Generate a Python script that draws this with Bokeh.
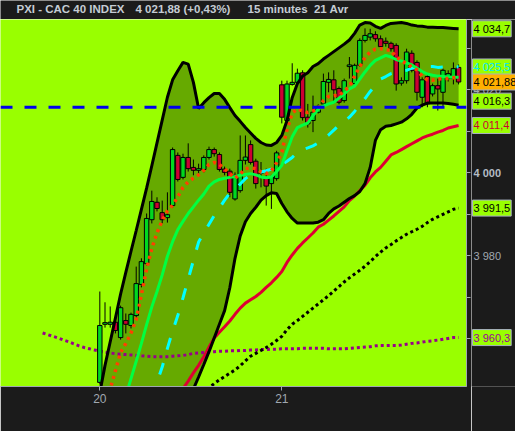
import numpy as np
from bokeh.plotting import figure
from bokeh.layouts import column, row
from bokeh.models import Range1d, FixedTicker, Label, Span, ColumnDataSource
from bokeh.embed import file_html
from bokeh.resources import INLINE

# ---- CAC 40 index, 15-minute bars, sessions of 20 and 21 April (35 bars each) ----
session_labels = ["20", "21"]
bars_per_session = 35

bar_open = [
    3949.5, 3963.5, 3963.5, 3964.0, 3960.3, 3964.4, 3963.2, 3965.6, 3973.1, 3978.1,
    3988.7, 3992.9, 3990.4, 3989.2, 3992.1, 4004.2, 3998.9, 4003.7, 4001.3, 4000.6,
    4000.8, 4003.7, 4005.6, 4004.4, 4000.9, 4000.4, 3993.7, 3995.7, 4003.0, 4006.8,
    4002.8, 3999.9, 3998.6, 3997.4, 3998.6, 4021.2, 4012.6, 4021.3, 4021.8, 4024.1,
    4013.4, 4012.6, 4014.6, 4016.6, 4021.8, 4022.4, 4020.3, 4017.4, 4025.6, 4021.5,
    4025.9, 4031.9, 4032.7, 4033.3, 4032.3, 4031.7, 4031.2, 4030.7, 4021.6, 4022.2,
    4028.8, 4026.6, 4018.2, 4023.2, 4019.0, 4021.0, 4019.4, 4022.7, 4022.7, 4025.4,
]
bar_high = [
    3971.4, 3968.8, 3967.8, 3964.9, 3968.0, 3966.1, 3966.3, 3977.4, 3979.4, 3990.2,
    3995.7, 3994.1, 3993.3, 3995.3, 4006.1, 4004.9, 4004.6, 4007.1, 4003.2, 4002.2,
    4004.2, 4006.3, 4006.1, 4004.9, 4001.5, 4001.0, 4000.1, 4009.0, 4009.0, 4007.8,
    4003.4, 4002.6, 4001.0, 3999.5, 4005.3, 4022.2, 4022.2, 4026.4, 4025.1, 4024.7,
    4016.6, 4018.6, 4016.5, 4023.9, 4024.2, 4024.7, 4020.8, 4022.7, 4027.9, 4026.3,
    4032.4, 4034.8, 4034.7, 4034.1, 4033.1, 4032.6, 4031.6, 4031.2, 4023.0, 4029.9,
    4029.5, 4027.1, 4023.0, 4023.9, 4021.5, 4022.7, 4025.1, 4024.7, 4026.6, 4026.1,
]
bar_low = [
    3949.0, 3962.7, 3962.7, 3961.3, 3959.8, 3961.3, 3962.5, 3965.1, 3972.4, 3977.7,
    3987.8, 3990.7, 3987.8, 3988.0, 3991.6, 3997.9, 3998.4, 4000.3, 3999.4, 3999.8,
    4000.1, 4003.2, 4003.9, 4000.3, 3999.4, 3994.1, 3993.3, 3995.2, 4002.0, 4002.0,
    3996.2, 3996.5, 3992.1, 3991.3, 3998.1, 4011.9, 4012.0, 4021.0, 4021.5, 4012.6,
    4010.9, 4009.8, 4014.3, 4016.2, 4019.4, 4016.7, 4016.5, 4016.9, 4022.7, 4021.2,
    4025.6, 4031.4, 4031.9, 4031.6, 4029.7, 4030.4, 4029.2, 4019.8, 4021.0, 4021.5,
    4024.2, 4017.4, 4015.8, 4015.8, 4018.4, 4015.0, 4015.8, 4022.0, 4021.3, 4021.3,
]
bar_close = [
    3963.2, 3963.9, 3964.0, 3962.0, 3967.5, 3963.5, 3965.9, 3973.3, 3978.6, 3989.0,
    3993.1, 3991.4, 3988.7, 3989.9, 4005.6, 3998.4, 4003.7, 4001.0, 4000.6, 4001.0,
    4003.7, 4005.6, 4004.6, 4000.8, 4000.1, 3995.3, 3999.4, 4003.0, 4003.8, 4002.5,
    3997.4, 4000.1, 3996.8, 3999.0, 4004.8, 4013.4, 4021.4, 4021.8, 4024.0, 4013.3,
    4011.8, 4014.6, 4016.0, 4022.0, 4022.5, 4020.0, 4017.0, 4022.2, 4026.0, 4025.9,
    4031.9, 4033.1, 4033.5, 4032.3, 4030.4, 4031.2, 4029.9, 4021.4, 4022.2, 4029.1,
    4024.7, 4019.4, 4022.4, 4016.6, 4021.0, 4020.2, 4024.7, 4023.9, 4025.1, 4021.88,
]

# Bollinger envelope
upper_band = [
    3947.0, 3953.6, 3959.3, 3965.0, 3970.8, 3976.0, 3981.1, 3986.1, 3991.2, 3996.3,
    4001.7, 4007.2, 4012.7, 4018.2, 4022.4, 4024.6, 4026.6, 4026.2, 4021.8, 4015.5,
    4016.9, 4018.1, 4019.1, 4019.1, 4017.7, 4015.7, 4013.8, 4012.4, 4010.9, 4009.6,
    4008.3, 4007.3, 4006.7, 4006.6, 4007.3, 4009.0, 4012.6, 4018.1, 4021.5, 4023.3,
    4024.1, 4025.6, 4026.3, 4027.4, 4028.3, 4029.2, 4030.1, 4031.0, 4032.0, 4033.6,
    4035.6, 4036.2, 4036.1, 4035.3, 4034.8, 4035.5, 4036.0, 4036.1, 4036.2, 4036.0,
    4035.6, 4035.4, 4035.3, 4035.1, 4035.1, 4035.0, 4035.0, 4034.9, 4034.8, 4034.7,
]
lower_band = [
    3930.0, 3930.5, 3931.0, 3931.5, 3932.0, 3932.5, 3933.0, 3933.5, 3934.0, 3934.5,
    3935.0, 3935.5, 3936.0, 3936.5, 3937.0, 3938.0, 3941.0, 3944.5, 3947.9, 3950.8,
    3953.8, 3956.9, 3960.2, 3963.5, 3966.8, 3972.3, 3979.4, 3984.8, 3988.2, 3990.2,
    3991.7, 3993.4, 3994.5, 3995.2, 3995.0, 3992.6, 3990.6, 3989.0, 3987.9, 3987.9,
    3987.9, 3987.9, 3988.1, 3988.7, 3990.2, 3991.3, 3992.0, 3992.9, 3993.8, 3994.5,
    3995.5, 3997.4, 4001.3, 4007.8, 4010.4, 4011.2, 4011.4, 4011.8, 4012.2, 4013.0,
    4014.1, 4015.6, 4016.3, 4016.8, 4016.8, 4016.8, 4016.8, 4016.7, 4016.5, 4016.3,
]

# moving averages
ma_green = [
    3926.0, 3930.0, 3934.0, 3938.0, 3942.0, 3946.2, 3950.4, 3954.6, 3958.9, 3963.4,
    3967.7, 3971.4, 3975.4, 3979.9, 3983.4, 3986.3, 3988.3, 3990.2, 3991.8, 3993.4,
    3994.9, 3996.8, 3997.8, 3998.4, 3998.7, 3998.9, 3999.1, 3999.4, 3999.6, 3999.8,
    3999.5, 3999.0, 3998.8, 3999.0, 4000.3, 4001.8, 4005.3, 4008.7, 4010.9, 4011.5,
    4012.0, 4013.8, 4015.3, 4016.1, 4016.6, 4017.0, 4018.0, 4019.0, 4020.2, 4020.9,
    4022.6, 4024.3, 4025.9, 4027.1, 4027.7, 4028.3, 4027.9, 4027.3, 4026.9, 4026.5,
    4026.0, 4025.2, 4024.4, 4023.8, 4023.5, 4023.3, 4023.2, 4023.1, 4023.0, 4023.0,
]
ma_cyan = [
    3910.0, 3913.6, 3917.2, 3920.8, 3924.4, 3928.0, 3931.6, 3935.2, 3938.8, 3942.4,
    3946.0, 3949.6, 3953.2, 3957.7, 3961.9, 3965.6, 3969.9, 3974.4, 3978.9, 3983.3,
    3985.5, 3987.6, 3989.7, 3991.5, 3993.4, 3995.1, 3996.0, 3997.3, 3998.6, 3999.5,
    3999.8, 4000.2, 4000.5, 4000.9, 4001.2, 4002.0, 4002.8, 4003.7, 4004.9, 4005.6,
    4006.0, 4006.5, 4007.2, 4008.1, 4009.1, 4010.3, 4011.5, 4012.4, 4013.4, 4014.8,
    4016.3, 4017.9, 4019.6, 4021.1, 4022.6, 4023.2, 4023.9, 4024.2, 4024.5, 4024.7,
    4025.2, 4025.4, 4025.5, 4025.6, 4025.6, 4025.4, 4025.5, 4025.7, 4025.7, 4025.5,
]
ma_orange = [
    3939.0, 3943.5, 3947.9, 3952.3, 3956.7, 3958.9, 3961.4, 3964.7, 3970.6, 3976.8,
    3981.8, 3985.5, 3988.5, 3990.8, 3992.2, 3994.2, 3996.5, 3997.8, 3998.7, 3999.5,
    4000.6, 4002.0, 4002.5, 4002.0, 4001.0, 3999.8, 3998.7, 3999.7, 4001.0, 4001.2,
    4001.0, 4000.2, 3999.8, 4000.5, 4002.4, 4005.0, 4010.4, 4014.4, 4015.4, 4014.9,
    4014.5, 4014.9, 4015.4, 4017.4, 4018.4, 4018.6, 4018.6, 4019.7, 4020.8, 4023.3,
    4025.6, 4027.8, 4029.1, 4029.8, 4029.9, 4029.7, 4029.5, 4027.9, 4027.1, 4026.2,
    4025.5, 4024.8, 4023.3, 4022.4, 4022.3, 4022.6, 4022.7, 4022.7, 4022.9, 4023.0,
]
ma_crimson = [
    3916.0, 3918.0, 3920.0, 3922.0, 3924.0, 3926.0, 3928.0, 3930.0, 3932.0, 3934.0,
    3936.0, 3938.0, 3940.0, 3942.0, 3944.0, 3946.0, 3948.0, 3949.8, 3951.8, 3953.6,
    3955.7, 3958.0, 3960.2, 3961.6, 3962.9, 3964.3, 3965.9, 3967.4, 3968.6, 3969.4,
    3970.2, 3971.2, 3972.4, 3973.5, 3974.8, 3976.2, 3978.4, 3980.2, 3981.8, 3983.1,
    3984.3, 3985.5, 3986.9, 3987.6, 3988.6, 3989.6, 3990.7, 3991.8, 3993.3, 3994.4,
    3995.7, 3997.0, 3998.8, 4000.2, 4001.3, 4002.8, 4004.3, 4004.9, 4005.6, 4006.3,
    4007.0, 4007.7, 4008.4, 4008.9, 4009.3, 4009.8, 4010.2, 4010.8, 4011.1, 4011.4,
]
ma_black = [
    3929.2, 3930.1, 3931.0, 3931.9, 3932.8, 3933.7, 3934.6, 3935.5, 3936.4, 3937.3,
    3938.2, 3939.1, 3940.0, 3940.9, 3941.8, 3942.7, 3943.6, 3944.5, 3945.4, 3946.3,
    3947.2, 3948.2, 3949.2, 3950.1, 3950.9, 3951.7, 3952.5, 3953.5, 3954.7, 3955.8,
    3956.5, 3957.2, 3957.9, 3958.7, 3959.6, 3960.6, 3962.2, 3963.5, 3964.4, 3965.4,
    3966.4, 3967.4, 3968.4, 3969.4, 3970.4, 3971.5, 3972.6, 3973.7, 3974.7, 3975.6,
    3976.5, 3977.5, 3978.6, 3979.8, 3980.9, 3981.9, 3982.7, 3983.6, 3984.4, 3985.2,
    3985.8, 3986.4, 3987.1, 3988.0, 3988.8, 3989.4, 3990.0, 3990.6, 3991.2, 3991.5,
]
# long average, available from 11 bars before the first bar of the 20th
ma_purple_first_bar = -11
ma_purple = [
    3961.4, 3961.0, 3960.6, 3960.2, 3959.7, 3959.3, 3958.8, 3958.3, 3957.9, 3957.6, 3957.3,
    3957.0, 3956.8, 3956.6, 3956.4, 3956.3, 3956.2, 3956.1, 3956.0, 3955.9, 3955.8,
    3955.7, 3955.7, 3955.7, 3955.7, 3955.8, 3955.9, 3956.0, 3956.2, 3956.5, 3956.6,
    3956.7, 3956.8, 3956.9, 3957.0, 3957.0, 3957.1, 3957.1, 3957.2, 3957.2, 3957.3,
    3957.3, 3957.4, 3957.4, 3957.5, 3957.5, 3957.6, 3957.6, 3957.6, 3957.6, 3957.7,
    3957.7, 3957.7, 3957.7, 3957.7, 3957.6, 3957.6, 3957.6, 3957.6, 3957.7, 3957.8,
    3957.9, 3958.0, 3958.1, 3958.3, 3958.4, 3958.4, 3958.4, 3958.4, 3958.5, 3958.7,
    3958.9, 3959.0, 3959.2, 3959.4, 3959.5, 3959.7, 3959.9, 3960.1, 3960.3, 3960.3,
]
reference_level = 4015.8
change_pct = 0.43
scale_labels = [3980, 4000, 4020]
scale_ticks = [3960, 3970, 3980, 3990, 4000, 4010, 4020, 4030]

# ---- styling ----
LIME = "#99FF00"
BAND = "#66AA00"
DARK = "#1B1B1B"
GREY = "#A0A8B0"
UP = "#00D820"
DOWN = "#CC0033"
FONT = "Liberation Sans"
NBSP = "\u00a0"
HEAD_H, FOOT_H = 19, 45
CHART_W, SCALE_W, TOTAL_W, TOTAL_H = 471, 44, 515, 431


def fr(v, d):
    """French style number: space for thousands, comma for decimals."""
    return f"{v:,.{d}f}".replace(",", NBSP).replace(".", ",")


n = len(bar_close)
x = np.arange(n)
o = np.array(bar_open)
c = np.array(bar_close)

y_range = Range1d(3948.51, 4036.94)

# ---- header strip ----
head = figure(width=TOTAL_W, height=HEAD_H, x_range=Range1d(0, TOTAL_W), y_range=Range1d(0, HEAD_H),
              x_axis_type=None, y_axis_type=None, min_border=0,
              output_backend="svg", toolbar_location=None,
              background_fill_color=DARK, border_fill_color=DARK)
head.outline_line_color = None
head.grid.visible = False
header = [
    (16, "PXI - CAC 40 INDEX"),
    (135, f"{fr(bar_close[-1], 2)} (+{fr(change_pct, 2)}%)"),
    (247, f"15 minutes{NBSP}{NBSP}21 Avr"),
]
for hx, txt in header:
    head.add_layout(Label(x=hx, y=HEAD_H / 2 + 1, text=txt,
                          text_font=FONT, text_font_size="11.5px", text_font_style="bold",
                          text_color="#C4CCD4", text_baseline="middle", text_align="left"))

# ---- price chart ----
p = figure(
    width=CHART_W, height=TOTAL_H - HEAD_H,
    x_range=Range1d(-19.1, 70.52), y_range=y_range,
    y_axis_location="right",
    output_backend="svg", toolbar_location=None,
    min_border_left=0, min_border_right=CHART_W - 466, min_border_top=0, min_border_bottom=FOOT_H,
    background_fill_color=LIME, border_fill_color=DARK,
)
p.title.visible = False
p.outline_line_color = None
p.grid.visible = False

# time axis: one tick at the first bar of each session
p.xaxis.ticker = FixedTicker(ticks=[k * bars_per_session for k in range(len(session_labels))])
p.xaxis.major_label_overrides = {k * bars_per_session: s for k, s in enumerate(session_labels)}
p.xaxis.axis_line_color = GREY
p.xaxis.major_tick_line_color = GREY
p.xaxis.major_tick_out = 4
p.xaxis.major_tick_in = 0
p.xaxis.minor_tick_line_color = None
p.xaxis.major_label_standoff = 3
p.xaxis.major_label_text_color = GREY
p.xaxis.major_label_text_font = FONT
p.xaxis.major_label_text_font_size = "12px"

# price axis: ticks only, labels go in the scale strip
p.yaxis.ticker = FixedTicker(ticks=scale_ticks)
p.yaxis.major_label_overrides = {t: "" for t in scale_ticks}
p.yaxis.major_label_text_font_size = "0px"
p.yaxis.major_label_standoff = 0
p.yaxis.axis_line_color = GREY
p.yaxis.major_tick_line_color = GREY
p.yaxis.major_tick_out = 4
p.yaxis.major_tick_in = 0
p.yaxis.minor_tick_line_color = None

# Bollinger envelope fill
p.varea(x=x, y1=lower_band, y2=upper_band, fill_color=BAND)

# slow averages under the candles
px = np.arange(len(ma_purple)) + ma_purple_first_bar
p.line(px, ma_purple, line_color="#99008A", line_width=3, line_dash="3 3")
p.line(x, ma_black, line_color="black", line_width=3, line_dash="3 3")
p.line(x, ma_crimson, line_color="#DD0033", line_width=3)

# candlesticks
src = ColumnDataSource(dict(
    x=x, high=bar_high, low=bar_low,
    top=np.maximum(o, c), bottom=np.minimum(o, c),
    color=np.where(c >= o, UP, DOWN),
))
p.segment(x0="x", y0="low", x1="x", y1="high", source=src, line_color="black", line_width=1)
p.vbar(x="x", width=0.85, top="top", bottom="bottom", source=src,
       fill_color="color", line_color="black", line_width=1)

# fast averages over the candles
p.line(x, ma_cyan, line_color="#00FFFF", line_width=3, line_dash="12 14")
p.line(x, ma_green, line_color="#00FF40", line_width=3)
p.line(x, ma_orange, line_color="#FF4000", line_width=3.5, line_dash="3 4")

# envelope edges
p.line(x, upper_band, line_color="black", line_width=3)
p.line(x, lower_band, line_color="black", line_width=3)

p.add_layout(Span(location=reference_level, dimension="width",
                  line_color="#0000EE", line_width=3, line_dash="12 12"))

# ---- price scale strip (labels and last-value tags) ----
side = figure(width=SCALE_W, height=TOTAL_H - HEAD_H, x_range=Range1d(0, SCALE_W), y_range=y_range,
              x_axis_type=None, y_axis_type=None,
              min_border_left=0, min_border_right=0, min_border_top=0, min_border_bottom=FOOT_H,
              output_backend="svg", toolbar_location=None,
              background_fill_color=DARK, border_fill_color=DARK)
side.outline_line_color = None
side.grid.visible = False

for v in scale_labels:
    major = v % 100 == 0
    side.add_layout(Label(x=2, y=v, text=fr(v, 0),
                          text_font=FONT, text_font_size="11px",
                          text_font_style="bold" if major else "normal",
                          text_color="#B4BCC4" if major else GREY,
                          text_baseline="middle", text_align="left"))

tags = [
    (upper_band[-1], 1, "black", LIME, 0),
    (ma_cyan[-1], 1, "#00E8FF", LIME, 0),
    (bar_close[-1], 2, "black", "#FFB000", 0),
    (lower_band[-1], 1, "black", LIME, 4),
    (ma_crimson[-1], 1, "#CC0033", LIME, 0),
    (ma_black[-1], 1, "black", LIME, 0),
    (ma_purple[-1], 1, "#990099", LIME, 0),
]
for v, d, tc, bg, dy in tags:
    side.add_layout(Label(x=1, y=v, y_offset=dy, text=fr(v, d),
                          text_font=FONT, text_font_size="11px", text_color=tc,
                          text_baseline="middle", text_align="left",
                          background_fill_color=bg, border_line_color="#A8B0C0",
                          border_line_width=1, padding=dict(x=1, y=2)))

layout = column(head, row(p, side, spacing=0), spacing=0)
open("out.html", "w").write(file_html(layout, INLINE))
